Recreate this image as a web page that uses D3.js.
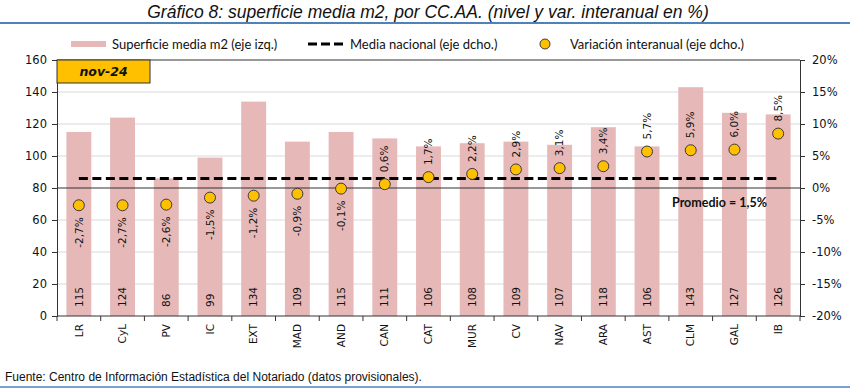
<!DOCTYPE html>
<html><head><meta charset="utf-8">
<script src="https://cdn.jsdelivr.net/npm/d3@7"></script>
<style>body{margin:0;background:#fff}svg{display:block}</style>
</head><body>
<svg id="c" width="850" height="389"></svg>
<script>
const categories = ["LR","CyL","PV","IC","EXT","MAD","AND","CAN","CAT","MUR","CV","NAV","ARA","AST","CLM","GAL","IB"];
const superficie = [115,124,86,99,134,109,115,111,106,108,109,107,118,106,143,127,126];
const variacion = [-2.7,-2.7,-2.6,-1.5,-1.2,-0.9,-0.1,0.6,1.7,2.2,2.9,3.1,3.4,5.7,5.9,6.0,8.5];
const mediaNacional = 1.5;
const leftTicks = [0,20,40,60,80,100,120,140,160];
const rightTicks = [-20,-15,-10,-5,0,5,10,15,20];

const svg = d3.select("#c");
const L = 57, R = 800, T = 60, B = 316;
const x = d3.scaleBand().domain(categories).range([L, R]).paddingInner(0.43).paddingOuter(0.215);
const yL = d3.scaleLinear().domain([0,160]).range([B, T]);
const yR = d3.scaleLinear().domain([-20,20]).range([B, T]);
const fmt = v => v.toFixed(1).replace(".", ",") + "%";
const tickFont = "DejaVu Sans, Verdana, sans-serif";

// title
svg.append("text").attr("x", 428).attr("y", 18).attr("text-anchor","middle")
  .attr("font-family","Liberation Sans, Arial, sans-serif").attr("font-style","italic")
  .attr("font-size", 17.5).attr("fill","#111")
  .text("Gráfico 8: superficie media m2, por CC.AA. (nivel y var. interanual en %)");
svg.append("line").attr("x1",0).attr("x2",850).attr("y1",23).attr("y2",23)
  .attr("stroke","#4F81BD").attr("stroke-width",2);

// gridlines
svg.append("g").selectAll("line").data(leftTicks.filter(t => t>0 && t<160 && t!==80)).join("line")
  .attr("x1",L).attr("x2",R).attr("y1",d=>yL(d)).attr("y2",d=>yL(d))
  .attr("stroke","#D9D9D9").attr("stroke-width",1);

// bars
svg.append("g").selectAll("rect").data(superficie).join("rect")
  .attr("x",(d,i)=>x(categories[i])).attr("width",x.bandwidth())
  .attr("y",d=>yL(d)).attr("height",d=>B-yL(d)).attr("fill","#E6B9B8");

// zero line (0%)
svg.append("line").attr("x1",L).attr("x2",R).attr("y1",yR(0)).attr("y2",yR(0))
  .attr("stroke","#333").attr("stroke-width",1);

// border top
svg.append("line").attr("x1",L).attr("x2",R).attr("y1",T).attr("y2",T).attr("stroke","#333");

// dashed average line
const cx = c => x(c) + x.bandwidth()/2;
svg.append("line").attr("x1",cx(categories[0])).attr("x2",cx(categories[categories.length-1]))
  .attr("y1",yR(mediaNacional)).attr("y2",yR(mediaNacional))
  .attr("stroke","#000").attr("stroke-width",3).attr("stroke-dasharray","9,4.5");

// bar value labels
svg.append("g").selectAll("text").data(superficie).join("text")
  .attr("transform",(d,i)=>`translate(${cx(categories[i])},307) rotate(-90)`)
  .attr("dy","0.35em").attr("text-anchor","start")
  .attr("font-family",tickFont).attr("font-size",10.5).attr("fill","#111")
  .text(d=>d);

// dots
svg.append("g").selectAll("circle").data(variacion).join("circle")
  .attr("cx",(d,i)=>cx(categories[i])).attr("cy",d=>yR(d)).attr("r",5.5)
  .attr("fill","#FFC000").attr("stroke","#3a3a3a").attr("stroke-width",1);

// variation labels
svg.append("g").selectAll("text").data(variacion).join("text")
  .attr("transform",(d,i)=>`translate(${cx(categories[i])},${d<0 ? yR(d)+12 : yR(d)-12}) rotate(-90)`)
  .attr("dy","0.35em").attr("text-anchor",d=>d<0?"end":"start")
  .attr("font-family",tickFont).attr("font-size",10.5).attr("fill","#111")
  .text(d=>fmt(d));

// axes
const gl = svg.append("g").attr("transform",`translate(${L},0)`)
  .call(d3.axisLeft(yL).tickValues(leftTicks).tickSize(5).tickPadding(5));
const gr = svg.append("g").attr("transform",`translate(${R},0)`)
  .call(d3.axisRight(yR).tickValues(rightTicks).tickSize(5).tickPadding(7).tickFormat(d=>String(d)+"%"));
[gl,gr].forEach(g=>{
  g.selectAll("text").attr("font-family",tickFont).attr("font-size",11.5).attr("fill","#111");
  g.selectAll("line,path").attr("stroke","#333");
});

// x axis
svg.append("line").attr("x1",L).attr("x2",R).attr("y1",B).attr("y2",B).attr("stroke","#333");
const step = x.step();
svg.append("g").selectAll("line").data(d3.range(categories.length+1)).join("line")
  .attr("x1",i=>L+i*step).attr("x2",i=>L+i*step).attr("y1",B).attr("y2",B+5).attr("stroke","#333");
svg.append("g").selectAll("text").data(categories).join("text")
  .attr("transform",d=>`translate(${cx(d)},324) rotate(-90)`)
  .attr("dy","0.35em").attr("text-anchor","end")
  .attr("font-family",tickFont).attr("font-size",10.5).attr("fill","#111")
  .text(d=>d);

// nov-24 box
svg.append("rect").attr("x",L).attr("y",T).attr("width",93).attr("height",23)
  .attr("fill","#FFC000").attr("stroke","#333").attr("stroke-width",1);
svg.append("text").attr("x",L+46.5).attr("y",T+16).attr("text-anchor","middle")
  .attr("font-family",tickFont).attr("font-weight","bold").attr("font-style","italic")
  .attr("font-size",12.5).attr("fill","#111").text("nov-24");

// promedio
svg.append("text").attr("x",672).attr("y",207)
  .attr("font-family","Lato, Open Sans, sans-serif").attr("font-weight","bold")
  .attr("font-size",12.5).attr("fill","#111").text("Promedio = " + fmt(mediaNacional));

// legend
const lf = "Lato, Open Sans, sans-serif";
const lg = svg.append("g");
lg.append("rect").attr("x",71).attr("y",41).attr("width",35).attr("height",6).attr("fill","#E6B9B8");
lg.append("text").attr("x",112).attr("y",48.5).attr("font-family",lf).attr("font-size",13).attr("fill","#111").text("Superficie media m2 (eje izq.)");
lg.append("line").attr("x1",308).attr("x2",343).attr("y1",44).attr("y2",44).attr("stroke","#000").attr("stroke-width",3).attr("stroke-dasharray","9,4");
lg.append("text").attr("x",350).attr("y",48.5).attr("font-family",lf).attr("font-size",13).attr("fill","#111").text("Media nacional (eje dcho.)");
lg.append("circle").attr("cx",545).attr("cy",44).attr("r",5).attr("fill","#FFC000").attr("stroke","#3a3a3a");
lg.append("text").attr("x",570).attr("y",48.5).attr("font-family",lf).attr("font-size",13).attr("fill","#111").text("Variación interanual (eje dcho.)");

// footer
svg.append("text").attr("x",5).attr("y",381).attr("font-family","Liberation Sans, Arial, sans-serif")
  .attr("font-size",12).attr("fill","#111")
  .text("Fuente: Centro de Información Estadística del Notariado (datos provisionales).");
svg.append("line").attr("x1",0).attr("x2",850).attr("y1",387).attr("y2",387)
  .attr("stroke","#4F81BD").attr("stroke-width",1.5);
</script>
</body></html>
